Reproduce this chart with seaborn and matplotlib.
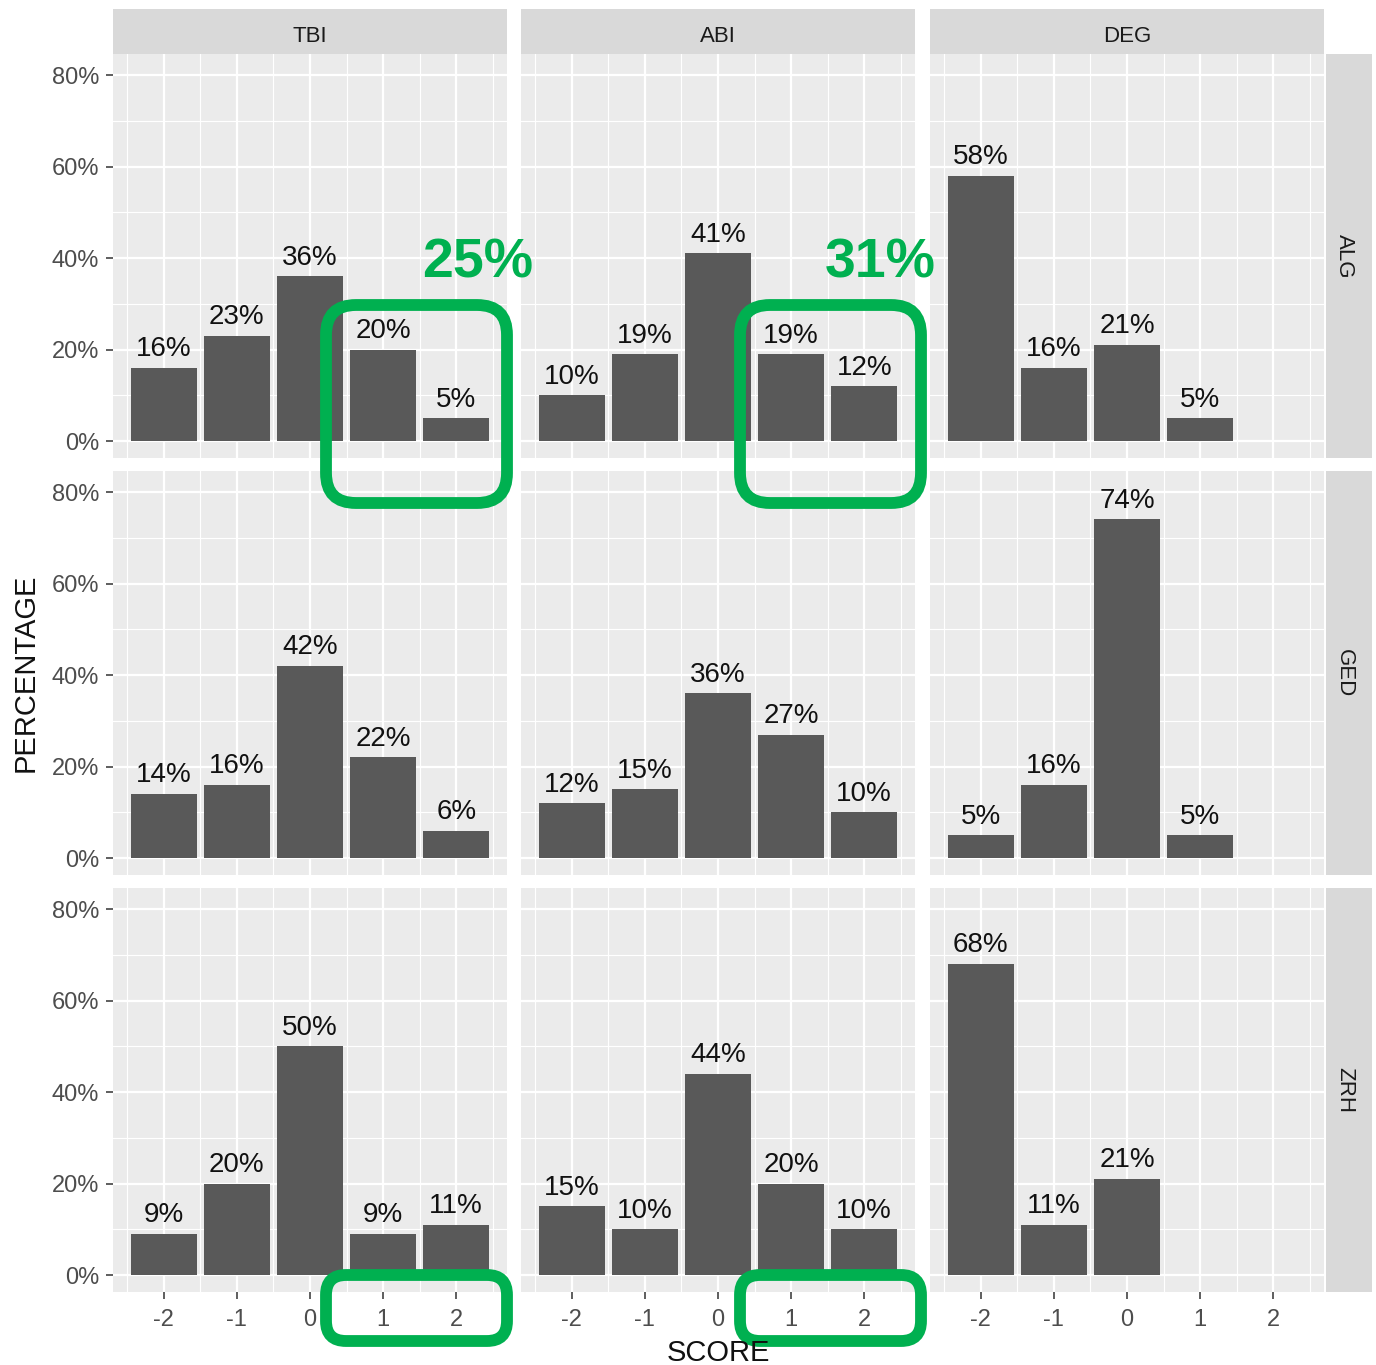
import matplotlib
matplotlib.use("Agg")
import matplotlib.pyplot as plt
import numpy as np
import pandas as pd
import seaborn as sns
from matplotlib.patches import FancyBboxPatch
from matplotlib.ticker import MultipleLocator, FixedLocator, FuncFormatter

# ---- data -------------------------------------------------------------
metrics = ["TBI", "ABI", "DEG"]          # facet columns
sites = ["ALG", "GED", "ZRH"]            # facet rows
scores = [-2, -1, 0, 1, 2]

tbi_alg = [16, 23, 36, 20, 5]
abi_alg = [10, 19, 41, 19, 12]
deg_alg = [58, 16, 21, 5, None]

tbi_ged = [14, 16, 42, 22, 6]
abi_ged = [12, 15, 36, 27, 10]
deg_ged = [5, 16, 74, 5, None]

tbi_zrh = [9, 20, 50, 9, 11]
abi_zrh = [15, 10, 44, 20, 10]
deg_zrh = [68, 11, 21, None, None]

highlight_totals = {"TBI": "25%", "ABI": "31%"}

series = {
    ("ALG", "TBI"): tbi_alg, ("ALG", "ABI"): abi_alg, ("ALG", "DEG"): deg_alg,
    ("GED", "TBI"): tbi_ged, ("GED", "ABI"): abi_ged, ("GED", "DEG"): deg_ged,
    ("ZRH", "TBI"): tbi_zrh, ("ZRH", "ABI"): abi_zrh, ("ZRH", "DEG"): deg_zrh,
}
records = []
for (site, metric), vals in series.items():
    for s, v in zip(scores, vals):
        if v is not None:
            records.append({"site": site, "metric": metric, "score": s, "pct": v})
df = pd.DataFrame(records)

# ---- style ------------------------------------------------------------
plt.rcParams["font.family"] = ["Liberation Sans", "DejaVu Sans"]
plt.rcParams["axes.unicode_minus"] = False
BAR = "#595959"
PANEL_BG = "#EBEBEB"
STRIP_BG = "#D9D9D9"
GREEN = "#00B050"

W, H = 1376, 1365
fig = plt.figure(figsize=(W / 100, H / 100), dpi=100)
fig.patch.set_facecolor("white")


def frac(x, y, w, h):
    return [x / W, 1 - (y + h) / H, w / W, h / H]


col_left = [113, 521, 930]
row_top = [54, 471, 888]
PW, PH = 394, 404

pct_fmt = FuncFormatter(lambda v, p: f"{v:.0f}%")

for i, site in enumerate(sites):
    for j, metric in enumerate(metrics):
        ax = fig.add_axes(frac(col_left[j], row_top[i], PW, PH))
        sub = df[(df.site == site) & (df.metric == metric)]
        sns.barplot(data=sub, x="score", y="pct", native_scale=True, ax=ax,
                    color=BAR, saturation=1, width=0.9, errorbar=None,
                    edgecolor="none")
        for _, r in sub.iterrows():
            ax.annotate(f"{r.pct:.0f}%", (r.score, r.pct), xytext=(0, 8.3),
                        textcoords="offset points", ha="center", va="baseline",
                        fontsize=20, color="#111111")
        ax.set_facecolor(PANEL_BG)
        ax.set_xlim(-2.695, 2.695)
        ax.set_ylim(-3.7, 84.6)
        ax.xaxis.set_major_locator(FixedLocator(scores))
        ax.xaxis.set_minor_locator(MultipleLocator(0.5))
        ax.yaxis.set_major_locator(MultipleLocator(20))
        ax.yaxis.set_minor_locator(MultipleLocator(10))
        ax.yaxis.set_major_formatter(pct_fmt)
        ax.set_axisbelow(True)
        ax.grid(which="major", color="white", lw=1.6)
        ax.grid(which="minor", color="white", lw=0.8)
        for sp in ax.spines.values():
            sp.set_visible(False)
        ax.set_xlabel("")
        ax.set_ylabel("")
        ax.tick_params(which="minor", length=0)
        ax.tick_params(which="major", length=5, width=1.1, color="#333333",
                       labelcolor="#4D4D4D", labelsize=17)
        ax.tick_params(axis="y", pad=5)
        ax.tick_params(axis="x", pad=7)
        if j != 0:
            ax.tick_params(axis="y", left=False, labelleft=False)
        if i != len(sites) - 1:
            ax.tick_params(axis="x", bottom=False, labelbottom=False)

# facet strips
for j, metric in enumerate(metrics):
    sa = fig.add_axes(frac(col_left[j], 9, PW, 45))
    sa.set_facecolor(STRIP_BG)
    sa.set_xticks([]); sa.set_yticks([])
    for sp in sa.spines.values():
        sp.set_visible(False)
    sa.text(0.5, 0.40, metric, ha="center", va="center", fontsize=16,
            color="#1A1A1A", transform=sa.transAxes)

for i, site in enumerate(sites):
    sa = fig.add_axes(frac(1326, row_top[i], 46, PH))
    sa.set_facecolor(STRIP_BG)
    sa.set_xticks([]); sa.set_yticks([])
    for sp in sa.spines.values():
        sp.set_visible(False)
    sa.text(0.40, 0.5, site, ha="center", va="center", fontsize=16,
            rotation=-90, color="#1A1A1A", transform=sa.transAxes)

# axis titles
fig.text(26 / W, 1 - 673 / H, "PERCENTAGE", rotation=90, ha="center",
         va="center", fontsize=21, color="#111111")
fig.text(718 / W, 1 - 1361 / H, "SCORE", ha="center", va="baseline",
         fontsize=21, color="#111111")

# highlight overlay (pixel coordinates)
ov = fig.add_axes([0, 0, 1, 1])
ov.set_xlim(0, W)
ov.set_ylim(H, 0)
ov.axis("off")
ov.patch.set_alpha(0)

for x0, xt, label in zip([326, 740], [478, 880], ["TBI", "ABI"]):
    ov.add_patch(FancyBboxPatch((x0, 305), 181, 198,
                                boxstyle="round,pad=0,rounding_size=30",
                                fill=False, ec=GREEN, lw=8.5))
    ov.add_patch(FancyBboxPatch((x0, 1275), 181, 66,
                                boxstyle="round,pad=0,rounding_size=20",
                                fill=False, ec=GREEN, lw=8.5))
    ov.text(xt, 277, highlight_totals[label], ha="center", va="baseline",
            fontsize=40, fontweight="bold", color=GREEN)

fig.savefig("out.png", dpi=100)
